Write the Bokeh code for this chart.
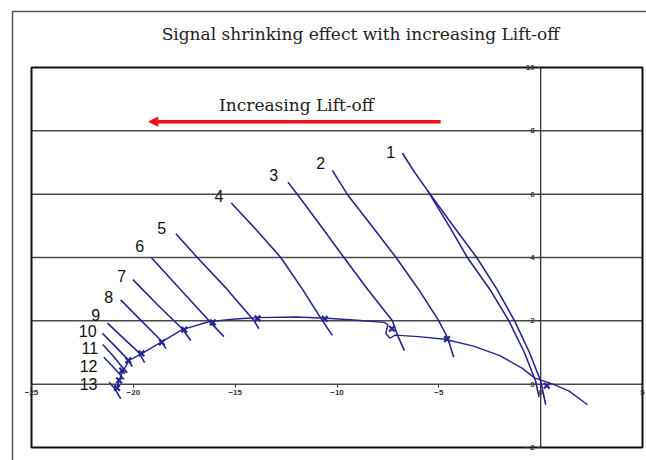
from bokeh.plotting import figure
from bokeh.models import Range1d, LinearAxis, FixedTicker, Arrow, NormalHead
from bokeh.embed import file_html
from bokeh.resources import INLINE
from bokeh.core.properties import value

# ---------------- data ----------------
title_text = "Signal shrinking effect with increasing Lift-off"
arrow_text = "Increasing Lift-off"
x_ticks = [-25, -20, -15, -10, -5, 0, 5]
y_ticks = [-2, 0, 2, 4, 6, 8, 10]
grid_y = [0, 2, 4, 6, 8]

c1a_x = [-6.79, -6.2, -5.56, -4.5, -3.6, -2.5, -1.56, -0.8, -0.25, -0.08]
c1a_y = [7.30, 6.7, 6.12, 5.0, 4.0, 3.0, 2.0, 1.0, 0.1, -0.41]
c1b_x = [-5.56, -4.3, -3.14, -2.15, -1.28, -0.55, 0.0, 0.25]
c1b_y = [6.12, 5.0, 4.0, 3.0, 2.0, 1.0, 0.1, -0.65]
c2_x = [-10.23, -9.5, -8.3, -7.1, -6.0, -5.0, -4.56, -4.27]
c2_y = [6.75, 6.0, 5.0, 4.0, 3.0, 2.0, 1.45, 0.85]
c3_x = [-12.41, -11.95, -10.8, -9.66, -8.5, -7.28, -7.0, -6.69]
c3_y = [6.38, 6.0, 5.0, 4.0, 3.0, 2.0, 1.5, 1.06]
c4_x = [-15.19, -14.0, -12.76, -11.7, -10.71, -10.23]
c4_y = [5.72, 4.9, 4.0, 3.0, 2.0, 1.54]
c5_x = [-17.91, -16.86, -15.4, -14.07, -13.83]
c5_y = [4.75, 4.0, 3.0, 2.0, 1.75]
c6_x = [-19.11, -17.7, -16.28, -15.55]
c6_y = [3.99, 3.0, 2.0, 1.5]
c7_x = [-20.02, -18.8, -17.6, -17.18]
c7_y = [3.30, 2.5, 1.75, 1.38]
c8_x = [-20.62, -19.6, -18.64, -18.4]
c8_y = [2.66, 2.0, 1.38, 1.12]
c9_x = [-21.27, -20.4, -19.7, -19.45]
c9_y = [1.93, 1.4, 0.98, 0.68]
c10_x = [-21.52, -20.9, -20.3, -20.05]
c10_y = [1.61, 1.2, 0.8, 0.56]
c11_x = [-21.5, -21.0, -20.5, -20.3]
c11_y = [1.25, 0.9, 0.5, 0.36]
c12_x = [-21.45, -21.0, -20.65, -20.46]
c12_y = [0.85, 0.55, 0.3, 0.15]
c13_x = [-21.19, -20.9, -20.62]
c13_y = [0.06, -0.15, -0.46]

arc_x = [-20.8, -20.7, -20.5, -20.2, -19.55, -18.65, -17.6, -16.3, -15.0, -13.9,
         -12.0, -10.5, -9.0, -7.7, -7.5, -7.6, -7.4, -7.15, -6.0, -4.7, -3.3,
         -2.0, -0.9, -0.3, 0.6, 1.4, 2.3]
arc_y = [-0.1, 0.12, 0.43, 0.75, 0.98, 1.32, 1.72, 1.97, 2.06, 2.1,
         2.12, 2.08, 2.02, 1.95, 1.88, 1.6, 1.45, 1.55, 1.5, 1.42, 1.2,
         0.9, 0.5, 0.2, 0.0, -0.22, -0.65]

mark_x = [-4.6, -7.3, -10.6, -13.9, -16.1, -17.5, -18.6, -19.6, -20.25, -20.55, -20.7, -20.8, 0.3]
mark_y = [1.42, 1.75, 2.06, 2.08, 1.95, 1.72, 1.32, 0.97, 0.75, 0.43, 0.12, -0.12, -0.05]

lab_text = ["1", "2", "3", "4", "5", "6", "7", "8", "9", "10", "11", "12", "13"]
lab_x = [-7.36, -10.80, -13.11, -15.80, -18.61, -19.69, -20.57, -21.21, -21.85, -22.24, -22.14, -22.20, -22.20]
lab_y = [7.32, 7.00, 6.59, 5.93, 4.92, 4.35, 3.43, 2.74, 2.20, 1.67, 1.13, 0.56, 0.0]

arrow_x = [-4.91, -19.24]
arrow_y = 8.29

# ---------------- layout ----------------
W, H = 646, 460
L, R, T, B = 31, 642, 67, 447          # plot rectangle in pixels
xs = (R - L) / 30.0
ys = (B - T) / 12.0
x0 = -25 - L / xs
x1 = 5 + (W - R) / xs
y1 = 10 + T / ys
y0 = -2 - (H - B) / ys
fx = x0 + 12 / xs                       # outer page frame
fy = y1 - 11 / ys

p = figure(width=W, height=H, x_range=Range1d(x0, x1), y_range=Range1d(y0, y1),
           output_backend="svg", toolbar_location=None, min_border=0,
           x_axis_type=None, y_axis_type=None)
p.outline_line_color = None
p.background_fill_color = "white"
p.border_fill_color = "white"

# outer page frame (left/top)
p.line(x=[fx, fx, x1 + 1], y=[y0 - 1, fy, fy], line_color="#555555", line_width=1.5)

# grid lines
p.segment(x0=[-25] * len(grid_y), x1=[5] * len(grid_y), y0=grid_y, y1=grid_y,
          line_color="#4a4a4a", line_width=1.5)
p.segment(x0=[0], x1=[0], y0=[-2], y1=[10], line_color="#333333", line_width=1.3)
# plot rectangle
p.quad(left=[-25], right=[5], bottom=[-2], top=[10], fill_color=None,
       line_color="#111111", line_width=2)

# axes positioned at zero
ax_style = dict(axis_line_color=None, major_tick_in=0, major_tick_out=3,
                minor_tick_line_color=None, major_tick_line_color="#333333",
                major_label_text_font_size="8px", major_label_text_font="Liberation Sans",
                major_label_text_font_style="bold", major_label_text_color="#333333",
                major_label_standoff=3)
xa = LinearAxis(fixed_location=0, ticker=FixedTicker(ticks=x_ticks), **ax_style)
ya = LinearAxis(fixed_location=0, ticker=FixedTicker(ticks=y_ticks), **ax_style)
p.add_layout(xa, "below")
p.add_layout(ya, "left")

# curves
blue = "#26268f"
curves = [(c1a_x, c1a_y), (c1b_x, c1b_y), (c2_x, c2_y), (c3_x, c3_y), (c4_x, c4_y),
          (c5_x, c5_y), (c6_x, c6_y), (c7_x, c7_y), (c8_x, c8_y), (c9_x, c9_y),
          (c10_x, c10_y), (c11_x, c11_y), (c12_x, c12_y), (c13_x, c13_y)]
for cx, cy in curves:
    p.line(x=cx, y=cy, line_color=blue, line_width=1.6)
p.line(x=arc_x, y=arc_y, line_color=blue, line_width=1.4)
p.scatter(x=mark_x, y=mark_y, marker="x", size=8, line_color=blue, line_width=2.2)

# curve labels
p.text(x=lab_x, y=lab_y, text=lab_text, text_font=value("Liberation Sans"),
       text_font_size="16px", text_align="center", text_baseline="middle",
       text_color="#111111")

# titles
p.text(x=[x0 + 360 / xs], y=[y1 - 33 / ys], text=[title_text],
       text_font=value("DejaVu Serif"), text_font_size="17px",
       text_align="center", text_baseline="middle", text_color="#222222")
p.text(x=[x0 + 296 / xs], y=[y1 - 104 / ys], text=[arrow_text],
       text_font=value("DejaVu Serif"), text_font_size="17px",
       text_align="center", text_baseline="middle", text_color="#222222")

# red arrow
p.add_layout(Arrow(x_start=arrow_x[0], y_start=arrow_y, x_end=arrow_x[1], y_end=arrow_y,
                   line_color="#ee1111", line_width=3.5,
                   end=NormalHead(size=9, fill_color="#ee1111", line_color="#ee1111")))

open("out.html", "w").write(file_html(p, INLINE))
